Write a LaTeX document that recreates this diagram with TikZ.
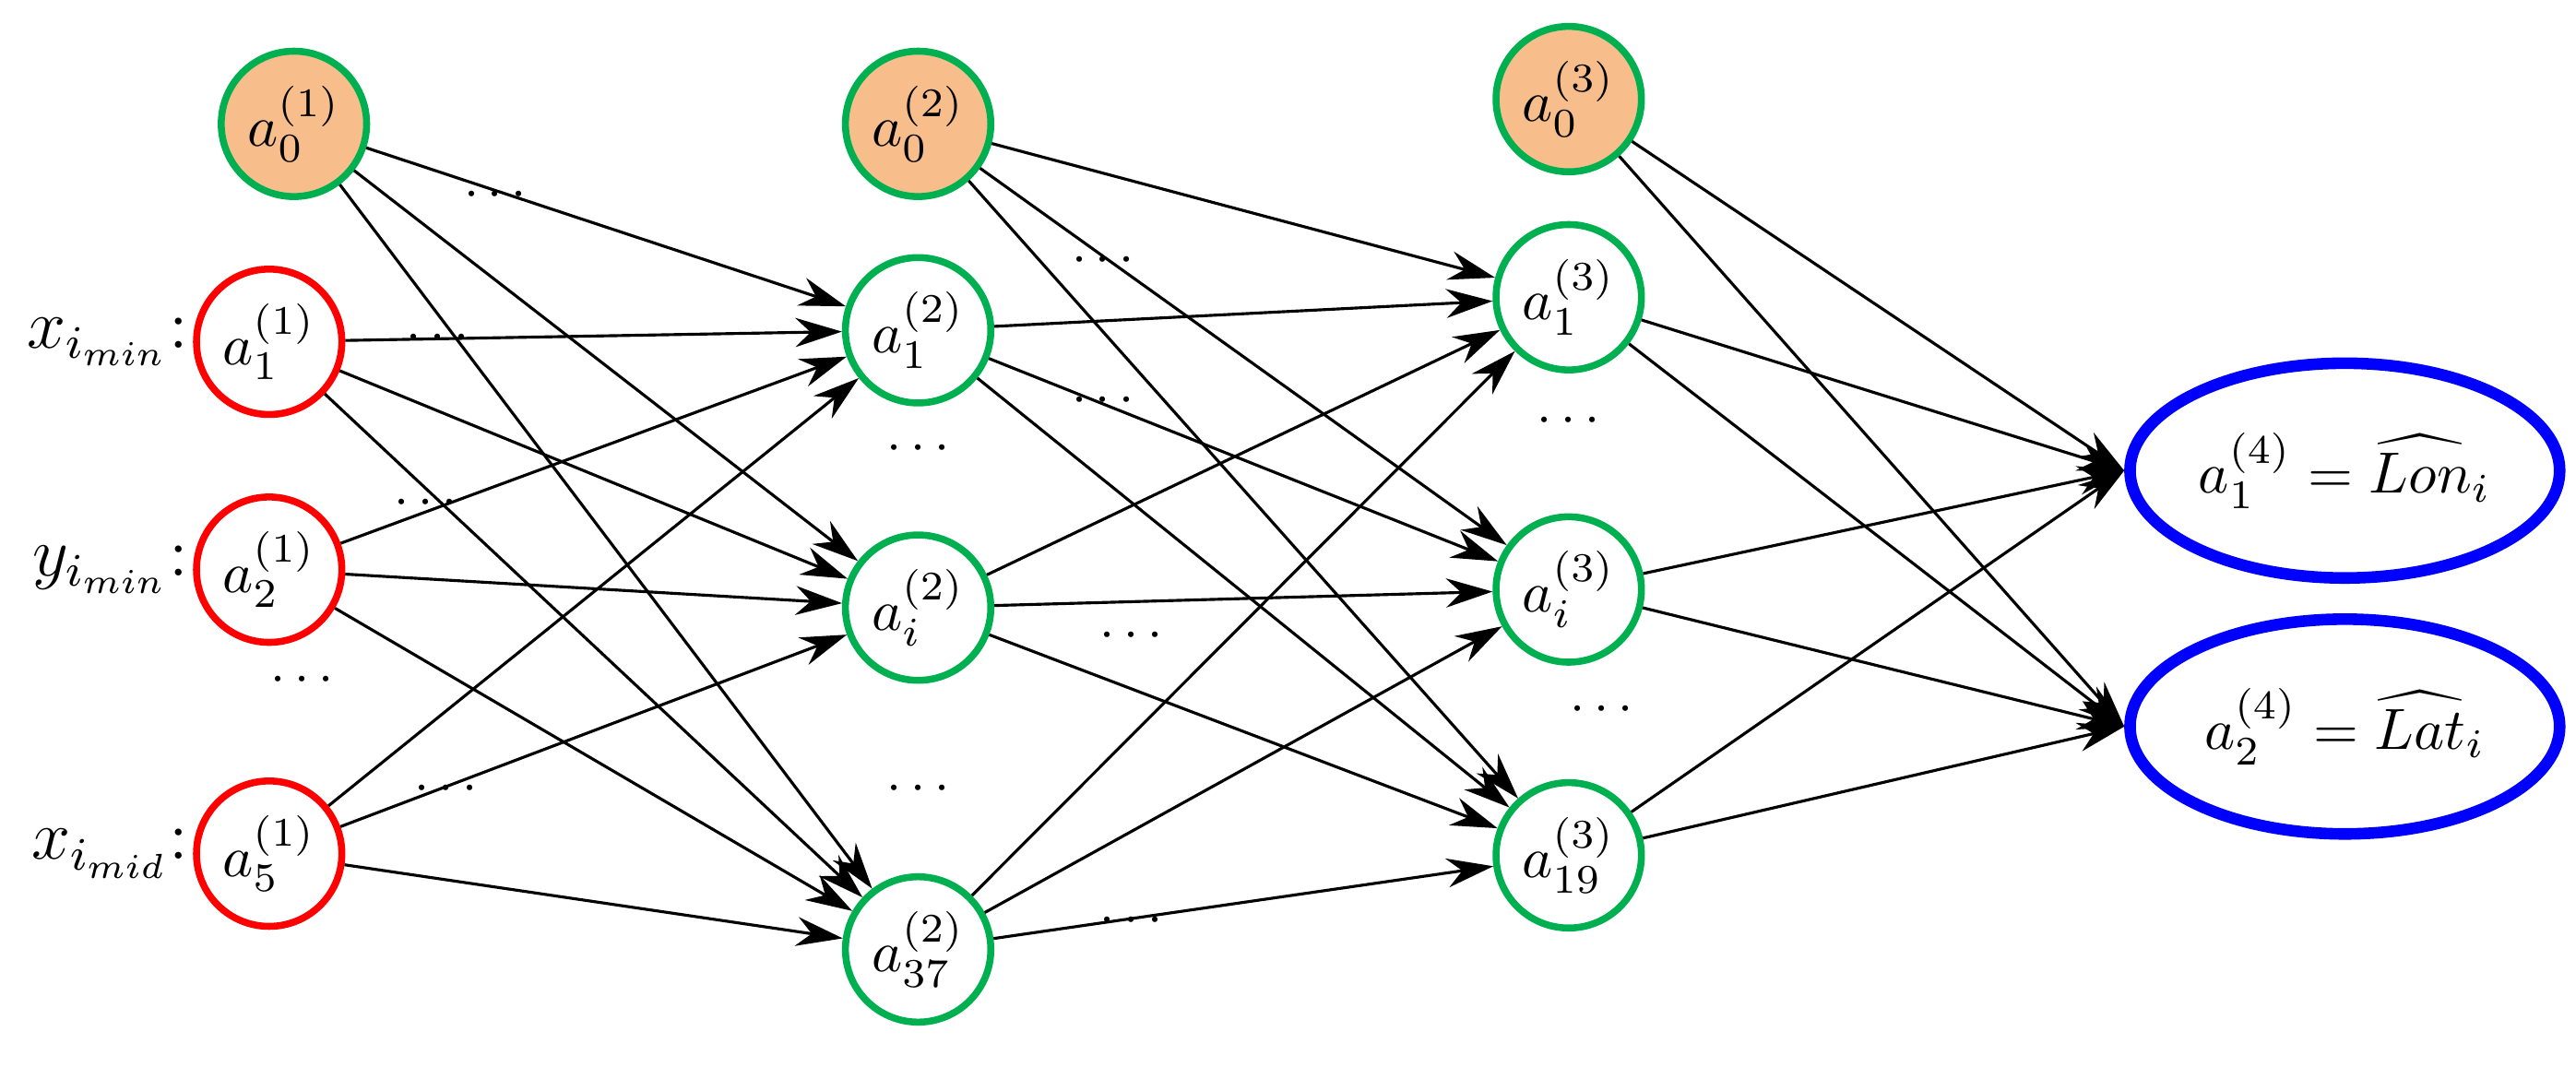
\documentclass[tikz,border=0pt]{standalone}
\usetikzlibrary{arrows.meta,shapes.geometric}
\begin{document}
\begin{tikzpicture}[x=0.01cm,y=-0.01cm,
  n/.style={circle,draw,line width=1.2pt,minimum size=0.88cm,inner sep=0pt,font=\normalsize},
  bias/.style={n,draw={rgb,255:red,0;green,176;blue,80},fill={rgb,255:red,247;green,190;blue,140}},
  g/.style={n,draw={rgb,255:red,0;green,176;blue,80}},
  r/.style={n,draw=red},
  outn/.style={ellipse,draw=blue,line width=2pt,minimum width=2.6cm,minimum height=1.3cm,inner sep=0pt,font=\normalsize},
  e/.style={-{Stealth[length=8pt,width=5pt]},line width=0.5pt},
  dt/.style={font=\small}]
\useasboundingbox (0,0) rectangle (1560,653);
\node[bias] (a10) at (178,75) {$a_0^{(1)}$};
\node[r] (a11) at (163,207) {$a_1^{(1)}$};
\node[r] (a12) at (163,345) {$a_2^{(1)}$};
\node[r] (a15) at (163,517) {$a_5^{(1)}$};
\node[bias] (a20) at (556,75) {$a_0^{(2)}$};
\node[g] (a21) at (556,200) {$a_1^{(2)}$};
\node[g] (a2i) at (556,368) {$a_i^{(2)}$};
\node[g] (a237) at (556,575) {$a_{37}^{(2)}$};
\node[bias] (a30) at (950,60) {$a_0^{(3)}$};
\node[g] (a31) at (950,180) {$a_1^{(3)}$};
\node[g] (a3i) at (950,357) {$a_i^{(3)}$};
\node[g] (a319) at (950,518) {$a_{19}^{(3)}$};
\node[outn] (o1) at (1420,285) {$a_1^{(4)}=\widehat{Lon}_i$};
\node[outn] (o2) at (1420,440) {$a_2^{(4)}=\widehat{Lat}_i$};
\foreach \s in {a10,a11,a12,a15}{\foreach \t in {a21,a2i,a237}{\draw[e] (\s) -- (\t);}}
\foreach \s in {a20,a21,a2i,a237}{\foreach \t in {a31,a3i,a319}{\draw[e] (\s) -- (\t);}}
\foreach \s in {a30,a31,a3i,a319}{\foreach \t in {o1,o2}{\draw[e] (\s) -- (\t.west);}}
\node[font=\large,anchor=east,inner sep=1pt] (lx) at (118,207) {$x_{i_{min}}$:};
\node[font=\large,anchor=east,inner sep=1pt] (ly) at (118,345) {$y_{i_{min}}$:};
\node[font=\large,anchor=east,inner sep=1pt] (lm) at (118,517) {$x_{i_{mid}}$:};
\foreach \x/\y [count=\k] in {300/118,265/205,258/305,270/478,183/412,556/272,556/478,668/158,668/243,685/385,685/558,950/255,970/430}{\node[dt] (d\k) at (\x,\y) {$\cdots$};}
\end{tikzpicture}
\end{document}
